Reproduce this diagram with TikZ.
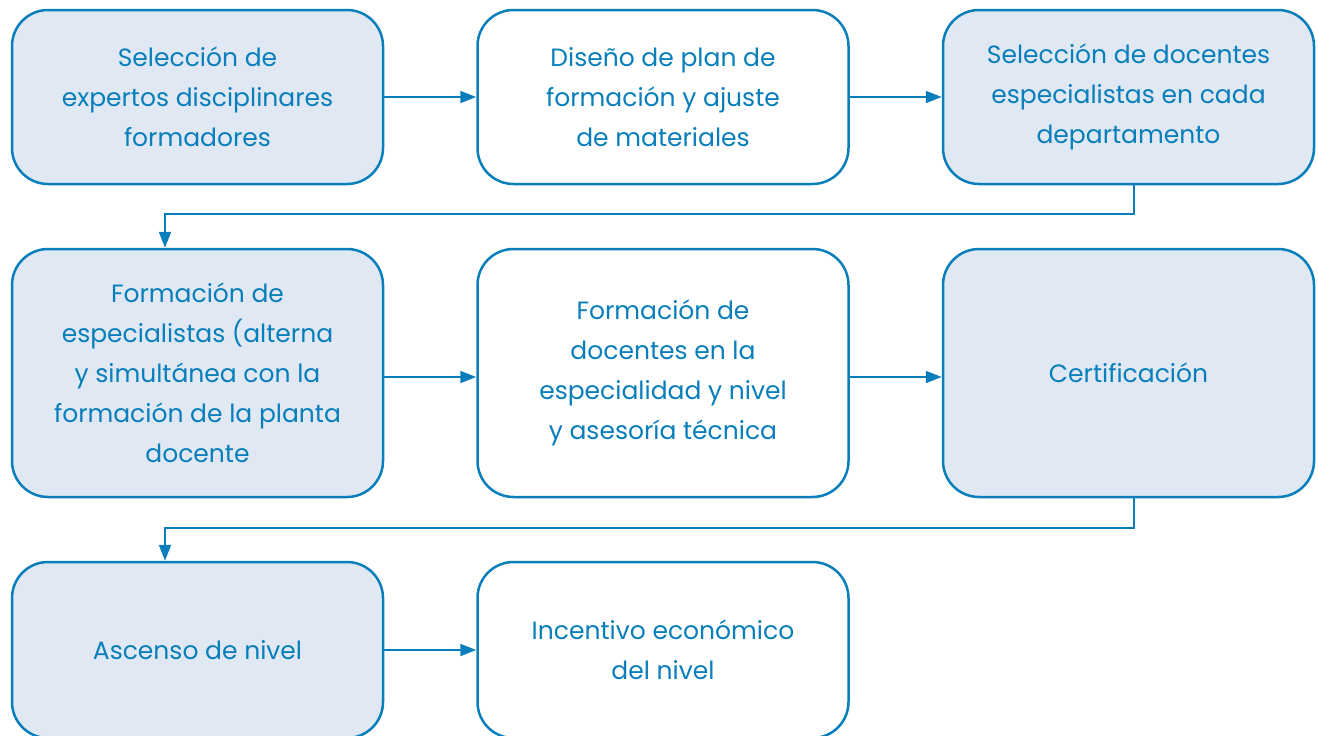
\documentclass[tikz,border=0pt]{standalone}
\usepackage{fontspec}
\setmainfont{Poppins}
\usetikzlibrary{arrows.meta}
\definecolor{bl}{RGB}{8,126,186}
\definecolor{bfill}{RGB}{224,233,243}
\tikzset{
  box/.style={draw=bl, line width=2.5pt, rounded corners=36pt, minimum width=371pt,
    text=bl, align=center, font=\fontsize{25}{40}\selectfont, inner sep=0pt},
  shaded/.style={box, fill=bfill},
  plain/.style={box, fill=white},
  arr/.style={draw=bl, line width=2pt, -{Triangle[length=16pt,width=12pt]}},
}
\begin{document}
\begin{tikzpicture}[x=1pt,y=-1pt]
\useasboundingbox (0,0) rectangle (1318,736);
\node[shaded, minimum height=174pt] (b1) at (197.5,97) {Selección de\\expertos disciplinares\\formadores};
\node[plain, minimum height=174pt] (b2) at (663,97) {Diseño de plan de\\formación y ajuste\\de materiales};
\node[shaded, minimum height=174pt] (b3) at (1128.5,97) {Selección de docentes\\especialistas en cada\\departamento};
\node[shaded, minimum height=248pt] (b4) at (197.5,373) {Formación de\\especialistas (alterna\\y simultánea con la\\formación de la planta\\docente};
\node[plain, minimum height=248pt] (b5) at (663,373) {Formación de\\docentes en la\\especialidad y nivel\\y asesoría técnica};
\node[shaded, minimum height=248pt] (b6) at (1128.5,373) {Certificación};
\node[shaded, minimum height=176pt] (b7) at (197.5,650) {Ascenso de nivel};
\node[plain, minimum height=176pt] (b8) at (663,650) {Incentivo económico\\del nivel};
\coordinate (c1) at (1134,214);
\coordinate (c2) at (165,214);
\coordinate (c3) at (1134,528);
\coordinate (c4) at (165,528);
\draw[arr] (b1) -- (b2);
\draw[arr] (b2) -- (b3);
\draw[arr] ([yshift=-4pt]b4.east) -- ([yshift=-4pt]b5.west);
\draw[arr] ([yshift=-4pt]b5.east) -- ([yshift=-4pt]b6.west);
\draw[arr] (b7) -- (b8);
\draw[arr] (b3.south -| c1) -- (c1) -- (c2) -- (c2 |- b4.north);
\draw[arr] (b6.south -| c3) -- (c3) -- (c4) -- (c4 |- b7.north);
\end{tikzpicture}
\end{document}
